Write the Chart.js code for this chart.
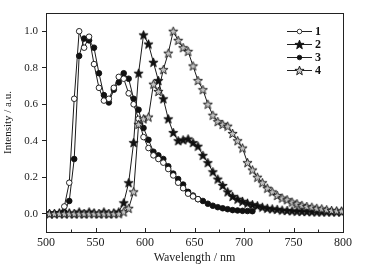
<!DOCTYPE html>
<html>
<head>
<meta charset="utf-8">
<script src="https://cdn.jsdelivr.net/npm/chart.js@4"></script>
<style>
  html, body { margin: 0; padding: 0; background: #fff; }
  #wrap { width: 369px; height: 267px; position: relative; }
</style>
</head>
<body>
<div id="wrap"><canvas id="chart"></canvas></div>
<script>
// wavelength (nm) of each sample
const wavelengths = [
  503.5, 508.5, 513.5, 518.5, 523.5, 528.5, 533.5, 538.5, 543.5, 548.5,
  553.5, 558.5, 563.5, 568.5, 573.5, 578.5, 583.5, 588.5, 593.5, 598.5,
  603.5, 608.5, 613.5, 618.5, 623.5, 628.5, 633.5, 638.5, 643.5, 648.5,
  653.5, 658.5, 663.5, 668.5, 673.5, 678.5, 683.5, 688.5, 693.5, 698.5,
  703.5, 708.5, 713.5, 718.5, 723.5, 728.5, 733.5, 738.5, 743.5, 748.5,
  753.5, 758.5, 763.5, 768.5, 773.5, 778.5, 783.5, 788.5, 793.5, 798.5
]

const seriesLabels = ["1", "2", "3", "4"]

const series1 = [
  0, 0, 0, 0.04, 0.17, 0.63, 1.0, 0.91, 0.97, 0.82,
  0.69, 0.62, 0.63, 0.69, 0.75, 0.74, 0.66, 0.60, 0.52, 0.42,
  0.36, 0.32, 0.30, 0.28, 0.245, 0.21, 0.17, 0.14, 0.11, 0.095,
  0.08
]
const series2 = [
  0, 0, 0.005, 0, 0.005, 0, 0.01, 0, 0.01, 0.005,
  0, 0.01, 0, 0.005, 0.01, 0.06, 0.17, 0.39, 0.77, 0.98,
  0.93, 0.83, 0.73, 0.63, 0.52, 0.445, 0.40, 0.405, 0.41, 0.39,
  0.37, 0.32, 0.28, 0.23, 0.19, 0.155, 0.12, 0.095, 0.08, 0.068,
  0.058, 0.05, 0.044, 0.036, 0.03, 0.027, 0.024, 0.02, 0.018, 0.016,
  0.014, 0.013, 0.012, 0.011, 0.01, 0.01, 0.01, 0.01, 0.01, 0.01
]
const series3 = [
  0, 0, 0, 0.01, 0.07, 0.30, 0.865, 0.96, 0.95, 0.91,
  0.77, 0.65, 0.61, 0.68, 0.72, 0.77, 0.74, 0.63, 0.57, 0.47,
  0.405, 0.34, 0.32, 0.30, 0.26, 0.22, 0.19, 0.16, 0.12, 0.10,
  0.08, 0.07, 0.055, 0.044, 0.036, 0.03, 0.025, 0.02, 0.018, 0.016,
  0.015, 0.014
]
const series4 = [
  0, 0, 0, 0, 0, 0, 0, 0, 0, 0,
  0, 0, 0, 0, 0, 0.01, 0.03, 0.12, 0.49, 0.52,
  0.53, 0.71, 0.67, 0.79, 0.88, 1.0, 0.95, 0.91, 0.89, 0.81,
  0.73, 0.68, 0.60, 0.54, 0.505, 0.49, 0.48, 0.44, 0.40, 0.36,
  0.28, 0.24, 0.20, 0.17, 0.14, 0.12, 0.10, 0.086, 0.077, 0.064,
  0.055, 0.046, 0.04, 0.036, 0.03, 0.027, 0.022, 0.018, 0.016, 0.015
]

const xTicks = [500, 550, 600, 650, 700, 750, 800]
const xMinorTicks = [525, 575, 625, 675, 725, 775]
const yTicks = [0, 0.2, 0.4, 0.6, 0.8, 1.0]

const FONT = "'Liberation Serif', 'DejaVu Serif', serif"

// five pointed star marker
function starImage(fill) {
    const c = document.createElement("canvas")
    const s = 11
    c.width = s
    c.height = s
    const g = c.getContext("2d")
    const outer = 4.8, inner = 2.0
    g.beginPath()
    for (let i = 0; i < 10; i++) {
        const r = i % 2 === 0 ? outer : inner
        const a = -Math.PI / 2 + i * Math.PI / 5
        const px = s / 2 + r * Math.cos(a)
        const py = s / 2 + 0.4 + r * Math.sin(a)
        if (i === 0) g.moveTo(px, py)
        else g.lineTo(px, py)
    }
    g.closePath()
    g.fillStyle = fill
    g.fill()
    g.lineWidth = 0.9
    g.strokeStyle = "#111"
    g.stroke()
    return c
}

const blackStar = starImage("#111")
const greyStar = starImage("#c4c4c4")

const toPoints = (ys) => ys.map((y, i) => ({ x: wavelengths[i], y: y }))

const datasets = [
    { label: seriesLabels[3], data: toPoints(series4), pointStyle: greyStar, pointRadius: 4 },
    { label: seriesLabels[1], data: toPoints(series2), pointStyle: blackStar, pointRadius: 4 },
    { label: seriesLabels[0], data: toPoints(series1), pointStyle: "circle", pointRadius: 2.8, pointBackgroundColor: "#fff" },
    { label: seriesLabels[2], data: toPoints(series3), pointStyle: "circle", pointRadius: 2.8, pointBackgroundColor: "#111" },
].map(d => Object.assign({
    borderColor: "#1a1a1a",
    borderWidth: 1,
    pointBorderColor: "#111",
    pointBorderWidth: 0.9,
    tension: 0,
    fill: false,
}, d))

// frame, inward x ticks and the legend
const framePlugin = {
    id: "frame",
    afterDraw(chart) {
        const { ctx, chartArea: a, scales } = chart
        ctx.save()
        ctx.strokeStyle = "#222"
        ctx.lineWidth = 1
        ctx.strokeRect(Math.round(a.left) + 0.5, Math.round(a.top) + 0.5,
            Math.round(a.right - a.left), Math.round(a.bottom - a.top))

        ctx.beginPath()
        xTicks.forEach(v => {
            const px = Math.round(scales.x.getPixelForValue(v)) + 0.5
            ctx.moveTo(px, a.bottom)
            ctx.lineTo(px, a.bottom - 4)
        })
        xMinorTicks.forEach(v => {
            const px = Math.round(scales.x.getPixelForValue(v)) + 0.5
            ctx.moveTo(px, a.bottom)
            ctx.lineTo(px, a.bottom - 2.5)
        })
        ctx.stroke()

        // legend
        const order = [2, 1, 3, 0]
        const lx = 287, lw = 25
        order.forEach((di, row) => {
            const ds = chart.data.datasets[di]
            const y = 31 + row * 13
            ctx.beginPath()
            ctx.strokeStyle = "#222"
            ctx.lineWidth = 1
            ctx.moveTo(lx, y + 0.5)
            ctx.lineTo(lx + lw, y + 0.5)
            ctx.stroke()
            ctx.fillStyle = ds.pointBackgroundColor || "#111"
            ctx.strokeStyle = "#111"
            ctx.lineWidth = 0.8
            Chart.helpers.drawPoint(ctx, {
                pointStyle: ds.pointStyle,
                radius: ds.pointStyle === "circle" ? 2.3 : 4,
                borderWidth: 0.8,
                rotation: 0,
            }, lx + lw / 2, y + 0.5)
            ctx.fillStyle = "#111"
            ctx.font = "bold 12px " + FONT
            ctx.textBaseline = "middle"
            ctx.textAlign = "left"
            ctx.fillText(ds.label, lx + lw + 3, y + 1)
        })
        ctx.restore()
    }
}

new Chart(document.getElementById("chart"), {
    type: "line",
    data: { datasets: datasets },
    plugins: [framePlugin],
    options: {
        responsive: true,
        maintainAspectRatio: false,
        animation: false,
        events: [],
        layout: { padding: { top: 13, right: 26, left: 0, bottom: 0 } },
        scales: {
            x: {
                type: "linear",
                min: 500,
                max: 800,
                afterBuildTicks: (scale) => { scale.ticks = xTicks.map(v => ({ value: v })) },
                afterFit: (scale) => { scale.height = 35 },
                grid: { display: false, drawTicks: false },
                border: { display: false },
                ticks: {
                    color: "#222",
                    padding: 4,
                    maxRotation: 0,
                    font: { family: FONT, size: 12 },
                },
                title: {
                    display: true,
                    text: "Wavelength / nm",
                    color: "#222",
                    font: { family: FONT, size: 12 },
                    padding: { top: 0, bottom: 2 },
                },
            },
            y: {
                min: -0.1,
                max: 1.1,
                afterBuildTicks: (scale) => { scale.ticks = yTicks.map(v => ({ value: v })) },
                afterFit: (scale) => { scale.width = 46 },
                grid: {
                    drawOnChartArea: false,
                    drawTicks: true,
                    tickLength: 4,
                    color: "#222",
                },
                border: { display: false },
                ticks: {
                    color: "#222",
                    padding: 4,
                    font: { family: FONT, size: 11 },
                    callback: (v) => v.toFixed(1),
                },
                title: {
                    display: true,
                    text: "Intensity / a.u.",
                    color: "#222",
                    font: { family: FONT, size: 11 },
                    padding: { top: 2, bottom: 0 },
                },
            },
        },
        plugins: {
            legend: { display: false },
            tooltip: { enabled: false },
        },
    },
})
</script>
</body>
</html>
